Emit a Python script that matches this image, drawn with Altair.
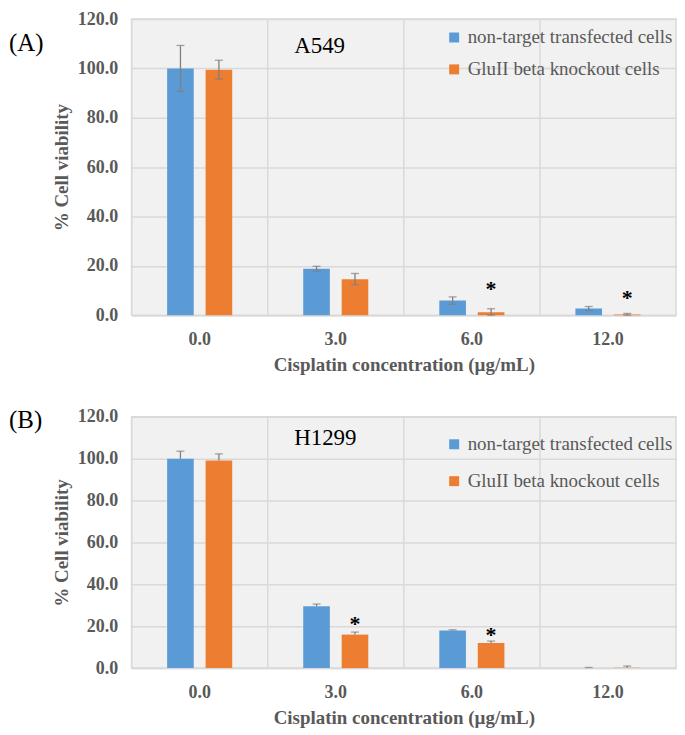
import altair as alt
import pandas as pd

categories = ["0.0", "3.0", "6.0", "12.0"]
series = ["non-target transfected cells", "GluII beta knockout cells"]
colors = ["#5B9BD5", "#ED7D31"]

# Panel A: A549
a549_ctrl = [100.0, 18.8, 5.9, 2.7]
a549_ctrl_err = [9.3, 1.0, 1.5, 0.8]
a549_ko = [99.5, 14.6, 1.2, 0.3]
a549_ko_err = [3.8, 2.3, 1.4, 0.4]
a549_star = [None, None, 12.5, 8.8]

# Panel B: H1299
h1299_ctrl = [100.0, 29.5, 18.0, 0.1]
h1299_ctrl_err = [3.6, 1.1, 0.3, 0.2]
h1299_ko = [99.1, 16.0, 12.0, 0.2]
h1299_ko_err = [3.2, 1.2, 0.9, 0.8]
h1299_star = [None, 23.4, 18.3, None]

FONT = "Liberation Serif"
GRAY = "#595959"
GRID = "#d9d9d9"
W = 546


def panel(ctrl, ctrl_err, ko, ko_err, stars, tag, cell, height, both, tag_y, cell_y, leg_y, row_pad):
    rows, caps, star_rows = [], [], []
    for i, c in enumerate(categories):
        for s, v, e in ((series[0], ctrl[i], ctrl_err[i]), (series[1], ko[i], ko_err[i])):
            lo = max(v - e, 0) if both else v
            rows.append(dict(conc=c, series=s, value=v, lo=lo, hi=v + e))
            caps.append(dict(conc=c, series=s, cap=v + e))
            if both:
                caps.append(dict(conc=c, series=s, cap=max(v - e, 0)))
        if stars[i] is not None:
            star_rows.append(dict(conc=c, series=series[1], sy=stars[i], t="*"))
    df = pd.DataFrame(rows)
    cdf = pd.DataFrame(caps)
    sdf = pd.DataFrame(star_rows)

    xaxis = alt.Axis(title="Cisplatin concentration (µg/mL)", labelAngle=0, ticks=False,
                     labelPadding=15, titlePadding=8, grid=False)
    yaxis = alt.Axis(title="% Cell viability", values=[0, 20, 40, 60, 80, 100, 120], format=".1f",
                     ticks=False, domain=False, grid=True, labelPadding=14, titlePadding=6)
    xscale = alt.Scale(domain=categories, paddingInner=0, paddingOuter=0)
    yscale = alt.Scale(domain=[0, 120], nice=False)
    xo = alt.XOffset("series:N", sort=series,
                     scale=alt.Scale(domain=series, paddingInner=0.308, paddingOuter=0.923))

    vgrid = alt.Chart(pd.DataFrame({"conc": categories})).mark_rule(
        color=GRID, strokeWidth=1.5).encode(
        x=alt.X("conc:N", sort=categories, scale=xscale, axis=xaxis, bandPosition=0))

    bars = alt.Chart(df).mark_bar().encode(
        x=alt.X("conc:N", sort=categories, scale=xscale, axis=xaxis),
        xOffset=xo,
        y=alt.Y("value:Q", scale=yscale, axis=yaxis),
        color=alt.Color("series:N", sort=series, scale=alt.Scale(domain=series, range=colors),
                        legend=alt.Legend(title=None, orient="none", legendX=314, legendY=leg_y,
                                          rowPadding=row_pad)),
    )

    err = alt.Chart(df).mark_rule(color="#7f7f7f", strokeWidth=1.3).encode(
        x=alt.X("conc:N", sort=categories, scale=xscale, axis=xaxis),
        xOffset=xo,
        y=alt.Y("lo:Q", scale=yscale, axis=yaxis),
        y2="hi:Q",
    )
    cap = alt.Chart(cdf).mark_tick(color="#7f7f7f", thickness=1.3, size=8).encode(
        x=alt.X("conc:N", sort=categories, scale=xscale, axis=xaxis),
        xOffset=xo,
        y=alt.Y("cap:Q", scale=yscale, axis=yaxis),
    )
    star = alt.Chart(sdf).mark_text(font=FONT, fontSize=22, fontWeight="bold", color="black",
                                    baseline="middle", dy=5).encode(
        x=alt.X("conc:N", sort=categories, scale=xscale, axis=xaxis),
        xOffset=xo,
        y=alt.Y("sy:Q", scale=yscale, axis=yaxis),
        text="t:N",
    )
    tag_t = alt.Chart(pd.DataFrame({"t": [tag]})).mark_text(
        font=FONT, fontSize=25, color="black", align="left", baseline="alphabetic").encode(
        text="t:N", x=alt.value(-123), y=alt.value(tag_y))
    cell_t = alt.Chart(pd.DataFrame({"t": [cell]})).mark_text(
        font=FONT, fontSize=23, color="black", align="left", baseline="alphabetic").encode(
        text="t:N", x=alt.value(163), y=alt.value(cell_y))

    return alt.layer(vgrid, bars, err, cap, star, tag_t, cell_t).properties(width=W, height=height)


a = panel(a549_ctrl, a549_ctrl_err, a549_ko, a549_ko_err, a549_star, "(A)", "A549",
          297, True, 32, 34, 9, 12)
b = panel(h1299_ctrl, h1299_ctrl_err, h1299_ko, h1299_ko_err, h1299_star, "(B)", "H1299",
          252, False, 11, 28, 18, 17)

chart = alt.vconcat(a, b, spacing=31).resolve_legend(color="independent").properties(
    padding={"left": 0, "top": 0, "right": 0, "bottom": 0}
).configure(font=FONT).configure_view(
    fill="#f1f1f1", stroke=GRID, strokeWidth=1.5
).configure_axis(
    labelFont=FONT, labelFontSize=18, labelFontWeight="bold", labelColor=GRAY,
    titleFont=FONT, titleFontSize=19, titleFontWeight="bold", titleColor=GRAY,
    gridColor=GRID, gridWidth=1.5, domainColor=GRID, domainWidth=1.5
).configure_legend(
    symbolType="square", symbolSize=100, symbolStrokeWidth=0, labelFont=FONT,
    labelFontSize=19, labelColor=GRAY, labelLimit=400, labelOffset=4, padding=0
)

chart.save("out.html", embed_options={"renderer": "svg", "actions": False})
